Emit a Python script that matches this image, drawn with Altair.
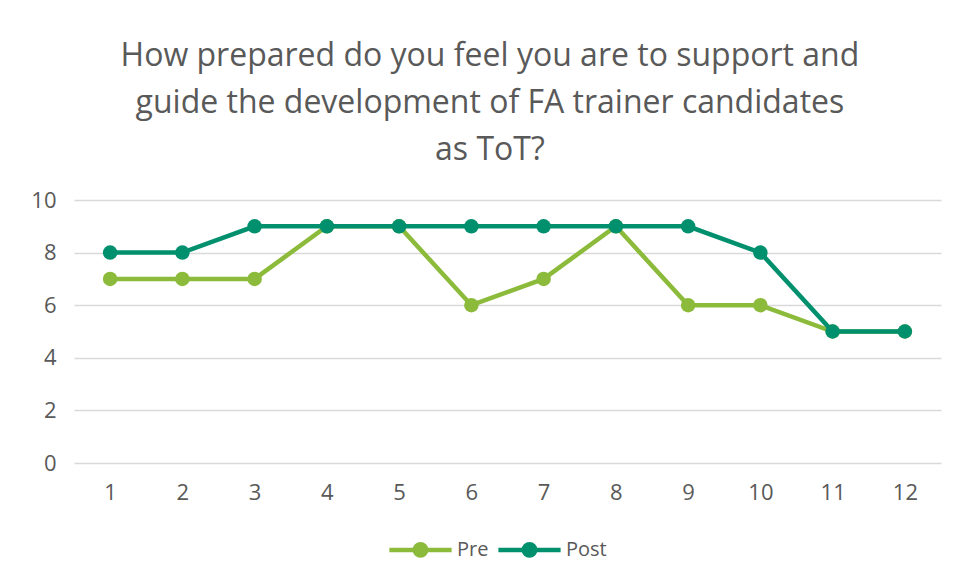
import altair as alt
import pandas as pd

categories = ["1", "2", "3", "4", "5", "6", "7", "8", "9", "10", "11", "12"]
pre = [7, 7, 7, 9, 9, 6, 7, 9, 6, 6, 5, 5]
post = [8, 8, 9, 9, 9, 9, 9, 9, 9, 8, 5, 5]
series = ["Pre", "Post"]
colors = ["#8CBB3C", "#00906E"]

rows = []
for s, vals in zip(series, [pre, post]):
    for c, v in zip(categories, vals):
        rows.append({"cat": c, "value": v, "series": s, "order": series.index(s)})
df = pd.DataFrame(rows)

FONT = "Open Sans"
legend_path = "M-2.2,0H2.2M0.4,0A0.4,0.4 0 1,1 -0.4,0A0.4,0.4 0 1,1 0.4,0Z"

base = alt.Chart(df).encode(
    x=alt.X("cat:O", sort=categories, title=None,
            scale=alt.Scale(type="point", padding=0.5),
            axis=alt.Axis(labelAngle=0, ticks=False, domain=False, labelPadding=19,
                          labelFontSize=22, labelColor="#595959", labelFont=FONT)),
    y=alt.Y("value:Q", title=None,
            scale=alt.Scale(domain=[0, 10]),
            axis=alt.Axis(values=[0, 2, 4, 6, 8, 10], ticks=False, domain=False,
                          labelPadding=18, labelFontSize=22, labelColor="#595959",
                          labelFont=FONT, gridColor="#D9D9D9", gridWidth=1.3)),
    color=alt.Color("series:N", sort=series,
                    scale=alt.Scale(domain=series, range=colors),
                    legend=alt.Legend(title=None, orient="none", direction="horizontal",
                                      legendX=330, legendY=333,
                                      symbolType=legend_path, symbolSize=800,
                                      symbolStrokeWidth=4.5, symbolFillColor=None,
                                      labelFontSize=20, labelColor="#595959", labelFont=FONT,
                                      labelOffset=20, columnPadding=0,
                                      symbolOpacity=1)),
    detail="series:N",
    order="order:Q",
)

lines = base.mark_line(strokeWidth=4.5)
points = base.mark_point(filled=True, size=210, opacity=1, shape="circle")

chart = alt.layer(
    lines.transform_filter("datum.series == 'Pre'"),
    points.transform_filter("datum.series == 'Pre'"),
    lines.transform_filter("datum.series == 'Post'"),
    points.transform_filter("datum.series == 'Post'"),
).properties(
    width=867,
    height=263,
    title=alt.Title(
        ["How prepared do you feel you are to support and",
         "guide the development of FA trainer candidates",
         "as ToT?"],
        fontSize=32, font=FONT, fontWeight="normal", color="#595959",
        lineHeight=47, offset=22, anchor="middle", frame="bounds", dx=4,
    ),
    padding={"left": 22, "top": 32, "right": 5, "bottom": 5},
).configure(background="white").configure_view(stroke=None)

chart.save("out.html", embed_options={"renderer": "svg", "actions": False})
